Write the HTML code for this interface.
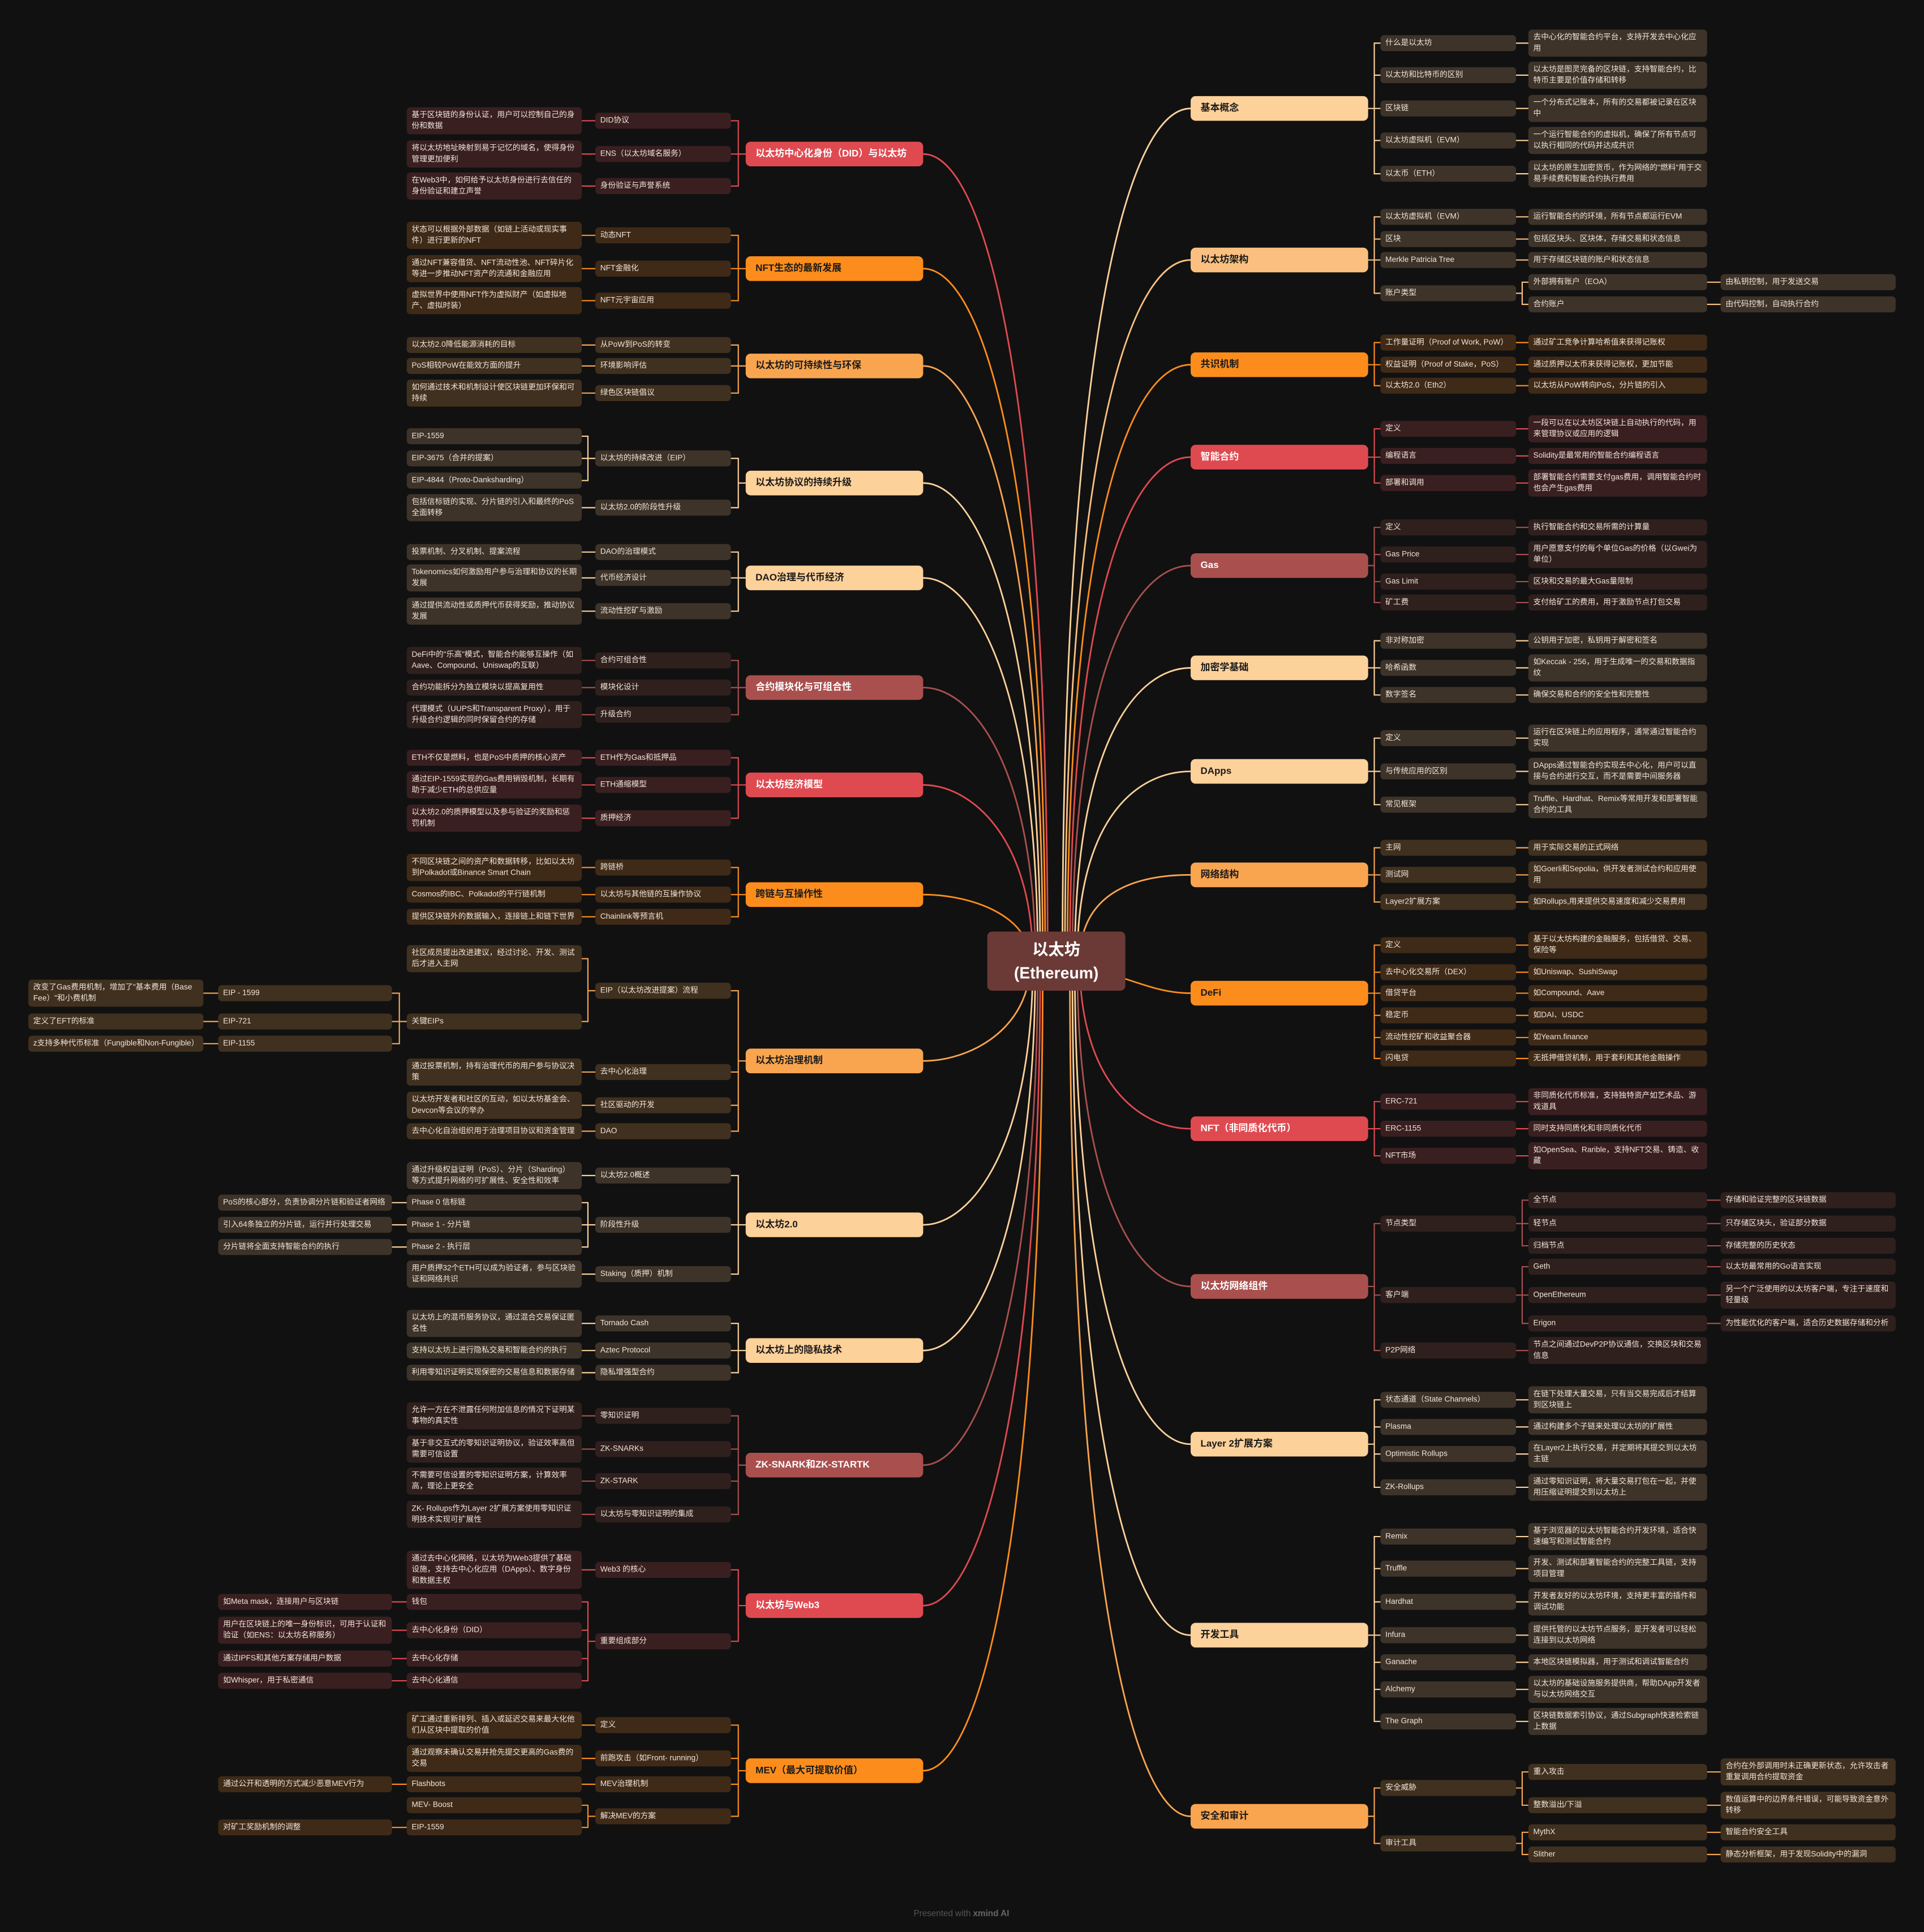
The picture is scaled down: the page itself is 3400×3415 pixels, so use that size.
<!DOCTYPE html>
<html><head><meta charset="utf-8">
<style>
html,body{margin:0;padding:0;background:#111111;}
body{width:3400px;height:3415px;overflow:hidden;position:relative;}
#s{position:absolute;left:0;top:0;width:1561px;height:1568px;transform:scale(2.17809);transform-origin:0 0;font-family:"Liberation Sans","Noto Sans CJK SC",sans-serif;}
svg{position:absolute;left:0;top:0;}
.m{position:absolute;height:20px;line-height:20px;width:136px;padding-left:8px;border-radius:4px;font-size:7.8px;font-weight:bold;color:#1a1a1a;white-space:nowrap;}
.m.w{color:#fff;}
.b{position:absolute;transform:translateY(-50%);box-sizing:border-box;padding:2px 4px;min-height:13px;border-radius:3px;font-size:6.3px;line-height:9px;color:#eee4d8;}
.r2{left:1120px;width:110px}.r3{left:1240px;width:145px}.r4{left:1396px;width:142px}
.l2{left:483px;width:110px}.l3{left:330px;width:142px}.l4{left:177px;width:141px}.l5{left:23px;width:142px}
.P{background:#3d3329}.Q{background:#40301f}.O{background:#3f2a18}.R{background:#3a1f21}.B{background:#2f201e}
.mP{background:#fdd19a}.mQ{background:#f9a550}.mO{background:#fc8d1c}.mR{background:#df4a51}.mB{background:#a9504e}.mA{background:#fbc07f}
</style></head><body><div id="s">
<svg width="1561" height="1568" viewBox="0 0 1561 1568" fill="none" stroke-linecap="round">
<g stroke-width="1.3">
<path stroke="#fdd19a" d="M862 780C862 296 912 88 966 88"/>
<path stroke="#fbc07f" d="M864 780C864 381 914 211 966 211"/>
<path stroke="#fc8d1c" d="M866 780C866 431 916 296 966 296"/>
<path stroke="#df4a51" d="M868 780C868 484 918 371 966 371"/>
<path stroke="#a9504e" d="M870 780C870 545 920 459 966 459"/>
<path stroke="#fdd19a" d="M872 780C872 603 922 542 966 542"/>
<path stroke="#fdd19a" d="M874 780C874 662 924 626 966 626"/>
<path stroke="#f9a550" d="M876 780C876 721 926 710 966 710"/>
<path stroke="#fc8d1c" d="M900 790C930 800 945 806 966 806"/>
<path stroke="#df4a51" d="M876 780C876 880 926 916 966 916"/>
<path stroke="#a9504e" d="M874 780C874 970 924 1044 966 1044"/>
<path stroke="#fdd19a" d="M872 780C872 1058 922 1172 966 1172"/>
<path stroke="#fdd19a" d="M870 780C870 1165 920 1327 966 1327"/>
<path stroke="#f9a550" d="M868 780C868 1268 918 1474 966 1474"/>
<path stroke="#df4a51" d="M850 780C850 321 800 125 749 125"/>
<path stroke="#fc8d1c" d="M848 780C848 387 798 218 749 218"/>
<path stroke="#f9a550" d="M846 780C846 442 796 297 749 297"/>
<path stroke="#fdd19a" d="M844 780C844 508 794 392 749 392"/>
<path stroke="#fdd19a" d="M842 780C842 562 792 469 749 469"/>
<path stroke="#a9504e" d="M840 780C840 625 790 558 749 558"/>
<path stroke="#df4a51" d="M838 780C838 680 788 637 749 637"/>
<path stroke="#fc8d1c" d="M836 780C836 742 786 726 749 726"/>
<path stroke="#f9a550" d="M836 780C836 836 786 861 749 861"/>
<path stroke="#fdd19a" d="M838 780C838 930 788 994 749 994"/>
<path stroke="#fdd19a" d="M840 780C840 1001 790 1096 749 1096"/>
<path stroke="#a9504e" d="M842 780C842 1066 792 1189 749 1189"/>
<path stroke="#df4a51" d="M844 780C844 1146 794 1303 749 1303"/>
<path stroke="#fc8d1c" d="M846 780C846 1240 796 1437 749 1437"/>
</g>
<g stroke-width="1">
<g stroke="#fdd19a">
<path d="M1110 88H1115V35H1120M1115 88V141H1120M1115 61H1120M1115 114H1120M1110 88H1120"/>
<path d="M1230 35H1240M1230 61H1240M1230 88H1240M1230 114H1240M1230 141H1240"/>
<path d="M1110 542H1115V520H1120M1115 542V564H1120M1110 542H1120M1230 520H1240M1230 542H1240M1230 564H1240"/>
<path d="M1110 626H1115V599H1120M1115 626V653H1120M1110 626H1120M1230 599H1240M1230 626H1240M1230 653H1240"/>
<path d="M1110 1172H1115V1136H1120M1115 1172V1207H1120M1115 1158H1120M1115 1180H1120M1230 1136H1240M1230 1158H1240M1230 1180H1240M1230 1207H1240"/>
<path d="M1110 1327H1115V1247H1120M1115 1327V1397H1120M1115 1273H1120M1115 1300H1120M1110 1327H1120M1115 1349H1120M1115 1371H1120"/>
<path d="M1230 1247H1240M1230 1273H1240M1230 1300H1240M1230 1327H1240M1230 1349H1240M1230 1371H1240M1230 1397H1240"/>
<path d="M605 392H599V372H593M599 392V412H593M483 372H477V354H472M477 372V390H472M483 372H472M483 412H472"/>
<path d="M605 469H599V448H593M599 469V496H593M605 469H593M483 448H472M483 469H472M483 496H472"/>
<path d="M605 994H599V954H593M599 994V1034H593M605 994H593M483 954H472M483 994H477V976H472M477 994V1012H472M483 994H472M483 1034H472"/>
<path d="M330 976H318M330 994H318M330 1012H318"/>
<path d="M605 1096H599V1074H593M599 1096V1114H593M605 1096H593M483 1074H472M483 1096H472M483 1114H472"/>
</g>
<g stroke="#fbc07f">
<path d="M1110 211H1115V176H1120M1115 211V238H1120M1115 194H1120M1110 211H1120"/>
<path d="M1230 176H1240M1230 194H1240M1230 211H1240M1230 238H1235V229H1240M1235 238V247H1240M1385 229H1396M1385 247H1396"/>
</g>
<g stroke="#fc8d1c">
<path d="M1110 296H1115V278H1120M1115 296V313H1120M1110 296H1120M1230 278H1240M1230 296H1240M1230 313H1240"/>
<path d="M1110 806H1115V767H1120M1115 806V859H1120M1115 789H1120M1110 806H1120M1115 824H1120M1115 842H1120"/>
<path d="M1230 767H1240M1230 789H1240M1230 806H1240M1230 824H1240M1230 842H1240M1230 859H1240"/>
<path d="M605 218H599V191H593M599 218V244H593M605 218H593M483 191H472M483 218H472M483 244H472"/>
<path d="M605 726H599V704H593M599 726V744H593M605 726H593M483 704H472M483 726H472M483 744H472"/>
<path d="M605 1437H599V1400H593M599 1437V1474H593M599 1427H593M599 1448H593M483 1400H472M483 1427H472M483 1448H472M483 1474H477V1465H472M477 1474V1483H472M330 1448H318M330 1483H318"/>
</g>
<g stroke="#f9a550">
<path d="M1110 710H1115V688H1120M1115 710V732H1120M1110 710H1120M1230 688H1240M1230 710H1240M1230 732H1240"/>
<path d="M1110 1474H1115V1451H1120M1115 1474V1496H1120M1230 1451H1235V1438H1240M1235 1451V1465H1240M1230 1496H1235V1487H1240M1235 1496V1505H1240"/>
<path d="M1385 1438H1396M1385 1465H1396M1385 1487H1396M1385 1505H1396"/>
<path d="M605 297H599V280H593M599 297V319H593M605 297H593M483 280H472M483 297H472M483 319H472"/>
<path d="M605 861H599V804H593M599 861V918H593M599 870H593M599 897H593M483 804H477V778H472M477 804V829H472"/>
<path d="M483 870H472M483 897H472M483 918H472M330 829H324V806H318M324 829V847H318M330 829H318M177 806H165M177 829H165M177 847H165"/>
</g>
<g stroke="#df4a51">
<path d="M1110 371H1115V348H1120M1115 371V392H1120M1110 371H1120M1230 348H1240M1230 370H1240M1230 392H1240"/>
<path d="M1110 916H1115V894H1120M1115 916V938H1120M1110 916H1120M1230 894H1240M1230 916H1240M1230 938H1240"/>
<path d="M605 125H599V98H593M599 125V151H593M605 125H593M483 98H472M483 125H472M483 151H472"/>
<path d="M605 637H599V615H593M599 637V664H593M605 637H593M483 615H472M483 637H472M483 664H472"/>
<path d="M605 1303H599V1274H593M599 1303V1332H593M483 1274H472M483 1332H477V1300H472M477 1332V1364H472M477 1323H472M477 1346H472"/>
<path d="M330 1300H318M330 1323H318M330 1346H318M330 1364H318"/>
</g>
<g stroke="#a9504e">
<path d="M1110 459H1115V428H1120M1115 459V489H1120M1115 450H1120M1115 472H1120M1230 428H1240M1230 450H1240M1230 472H1240M1230 489H1240"/>
<path d="M1110 1044H1115V993H1120M1115 1044V1096H1120M1115 1051H1120M1230 993H1235V974H1240M1235 993V1011H1240M1230 993H1240M1230 1051H1235V1028H1240M1235 1051V1074H1240M1230 1051H1240M1230 1096H1240"/>
<path d="M1385 974H1396M1385 993H1396M1385 1011H1396M1385 1028H1396M1385 1051H1396M1385 1074H1396"/>
<path d="M605 558H599V536H593M599 558V580H593M605 558H593M483 536H472M483 558H472M483 580H472"/>
<path d="M605 1189H599V1149H593M599 1189V1229H593M599 1176H593M599 1202H593M483 1149H472M483 1176H472M483 1202H472M483 1229H472"/>
</g>
</g>
</svg>

<div style="position:absolute;left:801px;top:756px;width:112px;height:48px;background:#6b3a36;border-radius:4px;color:#fff;font-weight:bold;font-size:13px;line-height:19px;text-align:center;padding-top:5px;box-sizing:border-box;">以太坊<br>(Ethereum)</div>

<!-- RIGHT main nodes -->
<div class="m mP" style="left:966px;top:78px">基本概念</div>
<div class="m mA" style="left:966px;top:201px">以太坊架构</div>
<div class="m mO" style="left:966px;top:286px">共识机制</div>
<div class="m mR w" style="left:966px;top:361px">智能合约</div>
<div class="m mB w" style="left:966px;top:449px">Gas</div>
<div class="m mP" style="left:966px;top:532px">加密学基础</div>
<div class="m mP" style="left:966px;top:616px">DApps</div>
<div class="m mQ" style="left:966px;top:700px">网络结构</div>
<div class="m mO" style="left:966px;top:796px">DeFi</div>
<div class="m mR w" style="left:966px;top:906px">NFT（非同质化代币）</div>
<div class="m mB w" style="left:966px;top:1034px">以太坊网络组件</div>
<div class="m mP" style="left:966px;top:1162px">Layer 2扩展方案</div>
<div class="m mP" style="left:966px;top:1317px">开发工具</div>
<div class="m mQ" style="left:966px;top:1464px">安全和审计</div>

<!-- LEFT main nodes -->
<div class="m mR w" style="left:605px;top:115px">以太坊中心化身份（DID）与以太坊</div>
<div class="m mO" style="left:605px;top:208px">NFT生态的最新发展</div>
<div class="m mQ" style="left:605px;top:287px">以太坊的可持续性与环保</div>
<div class="m mP" style="left:605px;top:382px">以太坊协议的持续升级</div>
<div class="m mP" style="left:605px;top:459px">DAO治理与代币经济</div>
<div class="m mB w" style="left:605px;top:548px">合约模块化与可组合性</div>
<div class="m mR w" style="left:605px;top:627px">以太坊经济模型</div>
<div class="m mO" style="left:605px;top:716px">跨链与互操作性</div>
<div class="m mQ" style="left:605px;top:851px">以太坊治理机制</div>
<div class="m mP" style="left:605px;top:984px">以太坊2.0</div>
<div class="m mP" style="left:605px;top:1086px">以太坊上的隐私技术</div>
<div class="m mB w" style="left:605px;top:1179px">ZK-SNARK和ZK-STARTK</div>
<div class="m mR w" style="left:605px;top:1293px">以太坊与Web3</div>
<div class="m mO" style="left:605px;top:1427px">MEV（最大可提取价值）</div>

<!-- 基本概念 -->
<div class="b r2 P" style="top:35px">什么是以太坊</div>
<div class="b r2 P" style="top:61px">以太坊和比特币的区别</div>
<div class="b r2 P" style="top:88px">区块链</div>
<div class="b r2 P" style="top:114px">以太坊虚拟机（EVM）</div>
<div class="b r2 P" style="top:141px">以太币（ETH）</div>
<div class="b r3 P" style="top:35px">去中心化的智能合约平台，支持开发去中心化应用</div>
<div class="b r3 P" style="top:61px">以太坊是图灵完备的区块链，支持智能合约，比特币主要是价值存储和转移</div>
<div class="b r3 P" style="top:88px">一个分布式记账本，所有的交易都被记录在区块中</div>
<div class="b r3 P" style="top:114px">一个运行智能合约的虚拟机，确保了所有节点可以执行相同的代码并达成共识</div>
<div class="b r3 P" style="top:141px">以太坊的原生加密货币，作为网络的"燃料"用于交易手续费和智能合约执行费用</div>
<!-- 架构 -->
<div class="b r2 P" style="top:176px">以太坊虚拟机（EVM）</div>
<div class="b r2 P" style="top:194px">区块</div>
<div class="b r2 P" style="top:211px">Merkle Patricia Tree</div>
<div class="b r2 P" style="top:238px">账户类型</div>
<div class="b r3 P" style="top:176px">运行智能合约的环境，所有节点都运行EVM</div>
<div class="b r3 P" style="top:194px">包括区块头、区块体，存储交易和状态信息</div>
<div class="b r3 P" style="top:211px">用于存储区块链的账户和状态信息</div>
<div class="b r3 P" style="top:229px">外部拥有账户（EOA）</div>
<div class="b r3 P" style="top:247px">合约账户</div>
<div class="b r4 P" style="top:229px">由私钥控制，用于发送交易</div>
<div class="b r4 P" style="top:247px">由代码控制，自动执行合约</div>
<!-- 共识 -->
<div class="b r2 O" style="top:278px">工作量证明（Proof of Work, PoW）</div>
<div class="b r2 O" style="top:296px">权益证明（Proof of Stake，PoS）</div>
<div class="b r2 O" style="top:313px">以太坊2.0（Eth2）</div>
<div class="b r3 O" style="top:278px">通过矿工竞争计算哈希值来获得记账权</div>
<div class="b r3 O" style="top:296px">通过质押以太币来获得记账权，更加节能</div>
<div class="b r3 O" style="top:313px">以太坊从PoW转向PoS，分片链的引入</div>
<!-- 智能合约 -->
<div class="b r2 R" style="top:348px">定义</div>
<div class="b r2 R" style="top:370px">编程语言</div>
<div class="b r2 R" style="top:392px">部署和调用</div>
<div class="b r3 R" style="top:348px">一段可以在以太坊区块链上自动执行的代码，用来管理协议或应用的逻辑</div>
<div class="b r3 R" style="top:370px">Solidity是最常用的智能合约编程语言</div>
<div class="b r3 R" style="top:392px">部署智能合约需要支付gas费用，调用智能合约时也会产生gas费用</div>
<!-- Gas -->
<div class="b r2 B" style="top:428px">定义</div>
<div class="b r2 B" style="top:450px">Gas Price</div>
<div class="b r2 B" style="top:472px">Gas Limit</div>
<div class="b r2 B" style="top:489px">矿工费</div>
<div class="b r3 B" style="top:428px">执行智能合约和交易所需的计算量</div>
<div class="b r3 B" style="top:450px">用户愿意支付的每个单位Gas的价格（以Gwei为单位）</div>
<div class="b r3 B" style="top:472px">区块和交易的最大Gas量限制</div>
<div class="b r3 B" style="top:489px">支付给矿工的费用，用于激励节点打包交易</div>
<!-- 加密学 -->
<div class="b r2 P" style="top:520px">非对称加密</div>
<div class="b r2 P" style="top:542px">哈希函数</div>
<div class="b r2 P" style="top:564px">数字签名</div>
<div class="b r3 P" style="top:520px">公钥用于加密，私钥用于解密和签名</div>
<div class="b r3 P" style="top:542px">如Keccak - 256，用于生成唯一的交易和数据指纹</div>
<div class="b r3 P" style="top:564px">确保交易和合约的安全性和完整性</div>
<!-- DApps -->
<div class="b r2 P" style="top:599px">定义</div>
<div class="b r2 P" style="top:626px">与传统应用的区别</div>
<div class="b r2 P" style="top:653px">常见框架</div>
<div class="b r3 P" style="top:599px">运行在区块链上的应用程序，通常通过智能合约实现</div>
<div class="b r3 P" style="top:626px">DApps通过智能合约实现去中心化，用户可以直接与合约进行交互，而不是需要中间服务器</div>
<div class="b r3 P" style="top:653px">Truffle、Hardhat、Remix等常用开发和部署智能合约的工具</div>
<!-- 网络结构 -->
<div class="b r2 Q" style="top:688px">主网</div>
<div class="b r2 Q" style="top:710px">测试网</div>
<div class="b r2 Q" style="top:732px">Layer2扩展方案</div>
<div class="b r3 Q" style="top:688px">用于实际交易的正式网络</div>
<div class="b r3 Q" style="top:710px">如Goerli和Sepolia，供开发者测试合约和应用使用</div>
<div class="b r3 Q" style="top:732px">如Rollups,用来提供交易速度和减少交易费用</div>
<!-- DeFi -->
<div class="b r2 O" style="top:767px">定义</div>
<div class="b r2 O" style="top:789px">去中心化交易所（DEX）</div>
<div class="b r2 O" style="top:806px">借贷平台</div>
<div class="b r2 O" style="top:824px">稳定币</div>
<div class="b r2 O" style="top:842px">流动性挖矿和收益聚合器</div>
<div class="b r2 O" style="top:859px">闪电贷</div>
<div class="b r3 O" style="top:767px">基于以太坊构建的金融服务，包括借贷、交易、保险等</div>
<div class="b r3 O" style="top:789px">如Uniswap、SushiSwap</div>
<div class="b r3 O" style="top:806px">如Compound、Aave</div>
<div class="b r3 O" style="top:824px">如DAI、USDC</div>
<div class="b r3 O" style="top:842px">如Yearn.finance</div>
<div class="b r3 O" style="top:859px">无抵押借贷机制，用于套利和其他金融操作</div>
<!-- NFT -->
<div class="b r2 R" style="top:894px">ERC-721</div>
<div class="b r2 R" style="top:916px">ERC-1155</div>
<div class="b r2 R" style="top:938px">NFT市场</div>
<div class="b r3 R" style="top:894px">非同质化代币标准，支持独特资产如艺术品、游戏道具</div>
<div class="b r3 R" style="top:916px">同时支持同质化和非同质化代币</div>
<div class="b r3 R" style="top:938px">如OpenSea、Rarible，支持NFT交易、铸造、收藏</div>
<!-- 网络组件 -->
<div class="b r2 B" style="top:993px">节点类型</div>
<div class="b r2 B" style="top:1051px">客户端</div>
<div class="b r2 B" style="top:1096px">P2P网络</div>
<div class="b r3 B" style="top:974px">全节点</div>
<div class="b r3 B" style="top:993px">轻节点</div>
<div class="b r3 B" style="top:1011px">归档节点</div>
<div class="b r3 B" style="top:1028px">Geth</div>
<div class="b r3 B" style="top:1051px">OpenEthereum</div>
<div class="b r3 B" style="top:1074px">Erigon</div>
<div class="b r3 B" style="top:1096px">节点之间通过DevP2P协议通信，交换区块和交易信息</div>
<div class="b r4 B" style="top:974px">存储和验证完整的区块链数据</div>
<div class="b r4 B" style="top:993px">只存储区块头，验证部分数据</div>
<div class="b r4 B" style="top:1011px">存储完整的历史状态</div>
<div class="b r4 B" style="top:1028px">以太坊最常用的Go语言实现</div>
<div class="b r4 B" style="top:1051px">另一个广泛使用的以太坊客户端，专注于速度和轻量级</div>
<div class="b r4 B" style="top:1074px">为性能优化的客户端，适合历史数据存储和分析</div>
<!-- Layer2 -->
<div class="b r2 P" style="top:1136px">状态通道（State Channels）</div>
<div class="b r2 P" style="top:1158px">Plasma</div>
<div class="b r2 P" style="top:1180px">Optimistic Rollups</div>
<div class="b r2 P" style="top:1207px">ZK-Rollups</div>
<div class="b r3 P" style="top:1136px">在链下处理大量交易，只有当交易完成后才结算到区块链上</div>
<div class="b r3 P" style="top:1158px">通过构建多个子链来处理以太坊的扩展性</div>
<div class="b r3 P" style="top:1180px">在Layer2上执行交易，并定期将其提交到以太坊主链</div>
<div class="b r3 P" style="top:1207px">通过零知识证明，将大量交易打包在一起，并使用压缩证明提交到以太坊上</div>
<!-- 开发工具 -->
<div class="b r2 P" style="top:1247px">Remix</div>
<div class="b r2 P" style="top:1273px">Truffle</div>
<div class="b r2 P" style="top:1300px">Hardhat</div>
<div class="b r2 P" style="top:1327px">Infura</div>
<div class="b r2 P" style="top:1349px">Ganache</div>
<div class="b r2 P" style="top:1371px">Alchemy</div>
<div class="b r2 P" style="top:1397px">The Graph</div>
<div class="b r3 P" style="top:1247px">基于浏览器的以太坊智能合约开发环境，适合快速编写和测试智能合约</div>
<div class="b r3 P" style="top:1273px">开发、测试和部署智能合约的完整工具链，支持项目管理</div>
<div class="b r3 P" style="top:1300px">开发者友好的以太坊环境，支持更丰富的插件和调试功能</div>
<div class="b r3 P" style="top:1327px">提供托管的以太坊节点服务，是开发者可以轻松连接到以太坊网络</div>
<div class="b r3 P" style="top:1349px">本地区块链模拟器，用于测试和调试智能合约</div>
<div class="b r3 P" style="top:1371px">以太坊的基础设施服务提供商，帮助DApp开发者与以太坊网络交互</div>
<div class="b r3 P" style="top:1397px">区块链数据索引协议，通过Subgraph快速检索链上数据</div>
<!-- 安全 -->
<div class="b r2 Q" style="top:1451px">安全威胁</div>
<div class="b r2 Q" style="top:1496px">审计工具</div>
<div class="b r3 Q" style="top:1438px">重入攻击</div>
<div class="b r3 Q" style="top:1465px">整数溢出/下溢</div>
<div class="b r3 Q" style="top:1487px">MythX</div>
<div class="b r3 Q" style="top:1505px">Slither</div>
<div class="b r4 Q" style="top:1438px">合约在外部调用时未正确更新状态，允许攻击者重复调用合约提取资金</div>
<div class="b r4 Q" style="top:1465px">数值运算中的边界条件错误，可能导致资金意外转移</div>
<div class="b r4 Q" style="top:1487px">智能合约安全工具</div>
<div class="b r4 Q" style="top:1505px">静态分析框架，用于发现Solidity中的漏洞</div>

<!-- LEFT: DID -->
<div class="b l2 R" style="top:98px">DID协议</div>
<div class="b l2 R" style="top:125px">ENS（以太坊域名服务）</div>
<div class="b l2 R" style="top:151px">身份验证与声誉系统</div>
<div class="b l3 R" style="top:98px">基于区块链的身份认证，用户可以控制自己的身份和数据</div>
<div class="b l3 R" style="top:125px">将以太坊地址映射到易于记忆的域名，使得身份管理更加便利</div>
<div class="b l3 R" style="top:151px">在Web3中，如何给予以太坊身份进行去信任的身份验证和建立声誉</div>
<!-- NFT生态 -->
<div class="b l2 O" style="top:191px">动态NFT</div>
<div class="b l2 O" style="top:218px">NFT金融化</div>
<div class="b l2 O" style="top:244px">NFT元宇宙应用</div>
<div class="b l3 O" style="top:191px">状态可以根据外部数据（如链上活动或现实事件）进行更新的NFT</div>
<div class="b l3 O" style="top:218px">通过NFT兼容借贷、NFT流动性池、NFT碎片化等进一步推动NFT资产的流通和金融应用</div>
<div class="b l3 O" style="top:244px">虚拟世界中使用NFT作为虚拟财产（如虚拟地产、虚拟时装）</div>
<!-- 可持续 -->
<div class="b l2 Q" style="top:280px">从PoW到PoS的转变</div>
<div class="b l2 Q" style="top:297px">环境影响评估</div>
<div class="b l2 Q" style="top:319px">绿色区块链倡议</div>
<div class="b l3 Q" style="top:280px">以太坊2.0降低能源消耗的目标</div>
<div class="b l3 Q" style="top:297px">PoS相较PoW在能效方面的提升</div>
<div class="b l3 Q" style="top:319px">如何通过技术和机制设计使区块链更加环保和可持续</div>
<!-- 协议升级 -->
<div class="b l2 P" style="top:372px">以太坊的持续改进（EIP）</div>
<div class="b l2 P" style="top:412px">以太坊2.0的阶段性升级</div>
<div class="b l3 P" style="top:354px">EIP-1559</div>
<div class="b l3 P" style="top:372px">EIP-3675（合并的提案）</div>
<div class="b l3 P" style="top:390px">EIP-4844（Proto-Danksharding）</div>
<div class="b l3 P" style="top:412px">包括信标链的实现、分片链的引入和最终的PoS全面转移</div>
<!-- DAO -->
<div class="b l2 P" style="top:448px">DAO的治理模式</div>
<div class="b l2 P" style="top:469px">代币经济设计</div>
<div class="b l2 P" style="top:496px">流动性挖矿与激励</div>
<div class="b l3 P" style="top:448px">投票机制、分叉机制、提案流程</div>
<div class="b l3 P" style="top:469px">Tokenomics如何激励用户参与治理和协议的长期发展</div>
<div class="b l3 P" style="top:496px">通过提供流动性或质押代币获得奖励，推动协议发展</div>
<!-- 模块化 -->
<div class="b l2 B" style="top:536px">合约可组合性</div>
<div class="b l2 B" style="top:558px">模块化设计</div>
<div class="b l2 B" style="top:580px">升级合约</div>
<div class="b l3 B" style="top:536px">DeFi中的"乐高"模式，智能合约能够互操作（如Aave、Compound、Uniswap的互联）</div>
<div class="b l3 B" style="top:558px">合约功能拆分为独立模块以提高复用性</div>
<div class="b l3 B" style="top:580px">代理模式（UUPS和Transparent Proxy），用于升级合约逻辑的同时保留合约的存储</div>
<!-- 经济 -->
<div class="b l2 R" style="top:615px">ETH作为Gas和抵押品</div>
<div class="b l2 R" style="top:637px">ETH通缩模型</div>
<div class="b l2 R" style="top:664px">质押经济</div>
<div class="b l3 R" style="top:615px">ETH不仅是燃料，也是PoS中质押的核心资产</div>
<div class="b l3 R" style="top:637px">通过EIP-1559实现的Gas费用销毁机制，长期有助于减少ETH的总供应量</div>
<div class="b l3 R" style="top:664px">以太坊2.0的质押模型以及参与验证的奖励和惩罚机制</div>
<!-- 跨链 -->
<div class="b l2 O" style="top:704px">跨链桥</div>
<div class="b l2 O" style="top:726px">以太坊与其他链的互操作协议</div>
<div class="b l2 O" style="top:744px">Chainlink等预言机</div>
<div class="b l3 O" style="top:704px">不同区块链之间的资产和数据转移，比如以太坊到Polkadot或Binance Smart Chain</div>
<div class="b l3 O" style="top:726px">Cosmos的IBC、Polkadot的平行链机制</div>
<div class="b l3 O" style="top:744px">提供区块链外的数据输入，连接链上和链下世界</div>
<!-- 治理 -->
<div class="b l2 Q" style="top:804px">EIP（以太坊改进提案）流程</div>
<div class="b l2 Q" style="top:870px">去中心化治理</div>
<div class="b l2 Q" style="top:897px">社区驱动的开发</div>
<div class="b l2 Q" style="top:918px">DAO</div>
<div class="b l3 Q" style="top:778px">社区成员提出改进建议，经过讨论、开发、测试后才进入主网</div>
<div class="b l3 Q" style="top:829px">关键EIPs</div>
<div class="b l3 Q" style="top:870px">通过投票机制，持有治理代币的用户参与协议决策</div>
<div class="b l3 Q" style="top:897px">以太坊开发者和社区的互动，如以太坊基金会、Devcon等会议的举办</div>
<div class="b l3 Q" style="top:918px">去中心化自治组织用于治理项目协议和资金管理</div>
<div class="b l4 Q" style="top:806px">EIP - 1599</div>
<div class="b l4 Q" style="top:829px">EIP-721</div>
<div class="b l4 Q" style="top:847px">EIP-1155</div>
<div class="b l5 Q" style="top:806px">改变了Gas费用机制，增加了"基本费用（Base Fee）"和小费机制</div>
<div class="b l5 Q" style="top:829px">定义了EFT的标准</div>
<div class="b l5 Q" style="top:847px">z支持多种代币标准（Fungible和Non-Fungible）</div>
<!-- 2.0 -->
<div class="b l2 P" style="top:954px">以太坊2.0概述</div>
<div class="b l2 P" style="top:994px">阶段性升级</div>
<div class="b l2 P" style="top:1034px">Staking（质押）机制</div>
<div class="b l3 P" style="top:954px">通过升级权益证明（PoS）、分片（Sharding）等方式提升网络的可扩展性、安全性和效率</div>
<div class="b l3 P" style="top:976px">Phase 0 信标链</div>
<div class="b l3 P" style="top:994px">Phase 1 - 分片链</div>
<div class="b l3 P" style="top:1012px">Phase 2 - 执行层</div>
<div class="b l3 P" style="top:1034px">用户质押32个ETH可以成为验证者，参与区块验证和网络共识</div>
<div class="b l4 P" style="top:976px">PoS的核心部分，负责协调分片链和验证者网络</div>
<div class="b l4 P" style="top:994px">引入64条独立的分片链，运行并行处理交易</div>
<div class="b l4 P" style="top:1012px">分片链将全面支持智能合约的执行</div>
<!-- 隐私 -->
<div class="b l2 P" style="top:1074px">Tornado Cash</div>
<div class="b l2 P" style="top:1096px">Aztec Protocol</div>
<div class="b l2 P" style="top:1114px">隐私增强型合约</div>
<div class="b l3 P" style="top:1074px">以太坊上的混币服务协议，通过混合交易保证匿名性</div>
<div class="b l3 P" style="top:1096px">支持以太坊上进行隐私交易和智能合约的执行</div>
<div class="b l3 P" style="top:1114px">利用零知识证明实现保密的交易信息和数据存储</div>
<!-- ZK -->
<div class="b l2 B" style="top:1149px">零知识证明</div>
<div class="b l2 B" style="top:1176px">ZK-SNARKs</div>
<div class="b l2 B" style="top:1202px">ZK-STARK</div>
<div class="b l2 B" style="top:1229px">以太坊与零知识证明的集成</div>
<div class="b l3 B" style="top:1149px">允许一方在不泄露任何附加信息的情况下证明某事物的真实性</div>
<div class="b l3 B" style="top:1176px">基于非交互式的零知识证明协议，验证效率高但需要可信设置</div>
<div class="b l3 B" style="top:1202px">不需要可信设置的零知识证明方案，计算效率高，理论上更安全</div>
<div class="b l3 B" style="top:1229px">ZK- Rollups作为Layer 2扩展方案使用零知识证明技术实现可扩展性</div>
<!-- Web3 -->
<div class="b l2 R" style="top:1274px">Web3 的核心</div>
<div class="b l2 R" style="top:1332px">重要组成部分</div>
<div class="b l3 R" style="top:1274px">通过去中心化网络，以太坊为Web3提供了基础设施，支持去中心化应用（DApps）、数字身份和数据主权</div>
<div class="b l3 R" style="top:1300px">钱包</div>
<div class="b l3 R" style="top:1323px">去中心化身份（DID）</div>
<div class="b l3 R" style="top:1346px">去中心化存储</div>
<div class="b l3 R" style="top:1364px">去中心化通信</div>
<div class="b l4 R" style="top:1300px">如Meta mask，连接用户与区块链</div>
<div class="b l4 R" style="top:1323px">用户在区块链上的唯一身份标识，可用于认证和验证（如ENS：以太坊名称服务）</div>
<div class="b l4 R" style="top:1346px">通过IPFS和其他方案存储用户数据</div>
<div class="b l4 R" style="top:1364px">如Whisper，用于私密通信</div>
<!-- MEV -->
<div class="b l2 O" style="top:1400px">定义</div>
<div class="b l2 O" style="top:1427px">前跑攻击（如Front- running）</div>
<div class="b l2 O" style="top:1448px">MEV治理机制</div>
<div class="b l2 O" style="top:1474px">解决MEV的方案</div>
<div class="b l3 O" style="top:1400px">矿工通过重新排列、插入或延迟交易来最大化他们从区块中提取的价值</div>
<div class="b l3 O" style="top:1427px">通过观察未确认交易并抢先提交更高的Gas费的交易</div>
<div class="b l3 O" style="top:1448px">Flashbots</div>
<div class="b l3 O" style="top:1465px">MEV- Boost</div>
<div class="b l3 O" style="top:1483px">EIP-1559</div>
<div class="b l4 O" style="top:1448px">通过公开和透明的方式减少恶意MEV行为</div>
<div class="b l4 O" style="top:1483px">对矿工奖励机制的调整</div>

<div style="position:absolute;left:700px;top:1550px;width:160px;text-align:center;font-size:7px;color:#555;">Presented with <b style="color:#666">xmind AI</b></div>
</div></body></html>
